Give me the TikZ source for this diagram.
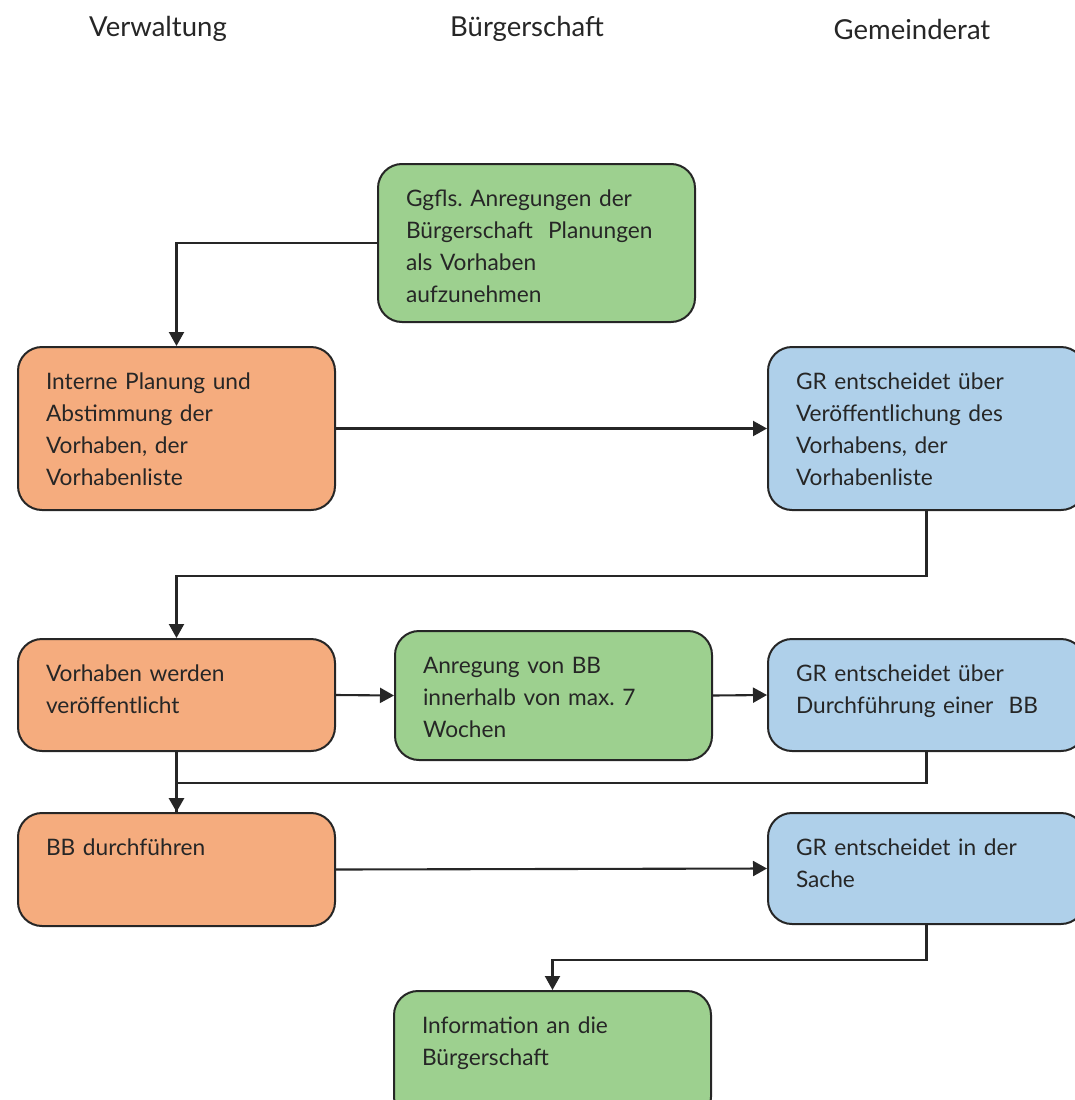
\documentclass[tikz,border=0pt]{standalone}
\usepackage{fontspec}
\setmainfont{Lato}
\frenchspacing
\usetikzlibrary{arrows.meta}
\definecolor{vwOrange}{HTML}{F5AC7E}
\definecolor{bsGreen}{HTML}{9DD08F}
\definecolor{grBlue}{HTML}{AFD0EA}
\definecolor{frameGray}{HTML}{262626}
\newcommand{\stagetext}[2]{\parbox[c][#1][t]{\linewidth}{\raggedright\rule{0pt}{42pt}#2}}

\begin{document}
\begin{tikzpicture}[x=1pt,y=-1pt,>={Triangle[length=14pt,width=15pt]},
  font=\fontsize{22.7}{32.3}\selectfont,
  stage/.style={draw=frameGray,line width=2pt,rounded corners=24pt,anchor=north west,
    inner xsep=28pt,inner ysep=0pt,text width=261pt,align=left,text=frameGray},
  flow/.style={->,line width=2.1pt,draw=frameGray},
  link/.style={line width=2.1pt,draw=frameGray},
  header/.style={font=\fontsize{27.5}{32}\selectfont,text=frameGray}]
\useasboundingbox (0,0) rectangle (1075,1100);
\clip (0,0) rectangle (1075,1100);
% column headers
\node[header] (hVerw) at (158,29) {Verwaltung};
\node[header] (hBuerg) at (527,29) {Bürgerschaft};
\node[header] (hGR) at (912,29) {Gemeinderat};
% stages
\node[stage,fill=bsGreen] (anreg) at (377,163) {\stagetext{158pt}{Ggfls. Anregungen der\\Bürgerschaft\ \ Planungen\\als Vorhaben\\aufzunehmen}};
\node[stage,fill=vwOrange] (planung) at (17,346) {\stagetext{163pt}{Interne Planung und\\Abstimmung der\\Vorhaben, der\\Vorhabenliste}};
\node[stage,fill=grBlue] (veroeff) at (767,346) {\stagetext{163pt}{GR entscheidet über\\Veröffentlichung des\\Vorhabens, der\\Vorhabenliste}};
\node[stage,fill=vwOrange] (oeffentl) at (17,638) {\stagetext{112pt}{Vorhaben werden\\veröffentlicht}};
\node[stage,fill=bsGreen] (anregBB) at (394,630) {\stagetext{129pt}{Anregung von BB\\innerhalb von max. 7\\Wochen}};
\node[stage,fill=grBlue] (entschBB) at (767,638) {\stagetext{112pt}{GR entscheidet über\\Durchführung einer\ \ BB}};
\node[stage,fill=vwOrange] (durchf) at (17,812) {\stagetext{113pt}{BB durchführen}};
\node[stage,fill=grBlue] (sache) at (767,812) {\stagetext{111pt}{GR entscheidet in der\\Sache}};
\node[stage,fill=bsGreen] (info) at (393,990) {\stagetext{130pt}{Information an die\\Bürgerschaft}};
% connectors
\draw[flow] (anreg.west) -| (planung.north);
\draw[flow] (planung.east) -- (veroeff.west);
\draw[flow] (veroeff.south) -- ++(0,65) -| (oeffentl.north);
\draw[flow] (oeffentl.east) -- (anregBB.west);
\draw[flow] (anregBB.east) -- (entschBB.west);
\draw[link] (entschBB.south) -- ++(0,31) -| (durchf.north);
\draw[flow,line width=3pt] (oeffentl.south) -- (durchf.north);
\draw[flow] (durchf.east) -- (sache.west);
\draw[flow] (sache.south) -- ++(0,35) -| (info.north);
\end{tikzpicture}
\end{document}
